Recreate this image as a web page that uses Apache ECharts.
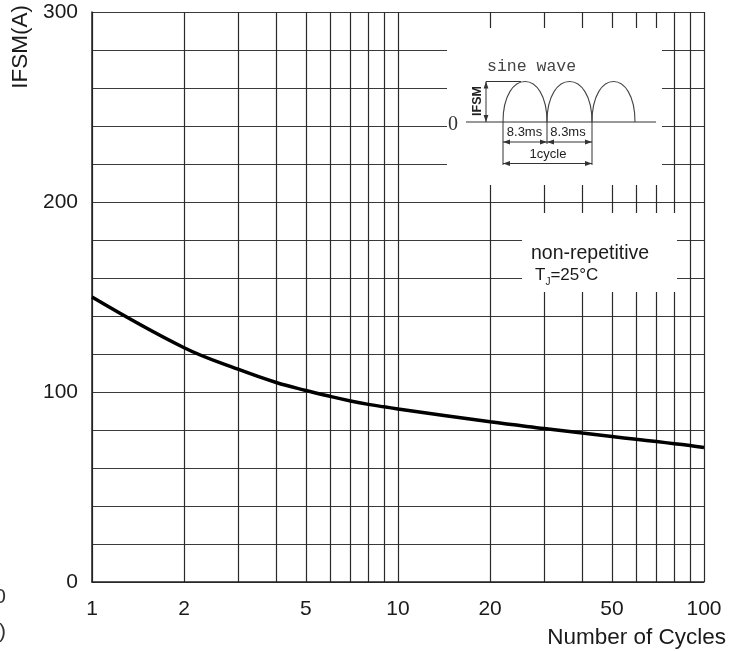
<!DOCTYPE html>
<html><head><meta charset="utf-8">
<script src="https://cdn.jsdelivr.net/npm/echarts@6/dist/echarts.min.js"></script>
<style>html,body{margin:0;padding:0;background:#fff}#c{width:749px;height:651px}</style>
</head><body><div id="c"></div>
<script>
// ---- data (IFSM in A versus number of cycles, log axis 1..100) ----
const cycles = [1, 2, 3, 4, 5, 6, 7, 8, 9, 10, 20, 30, 40, 50, 60, 70, 80, 90, 100];
const ifsm   = [150, 123.3, 112, 105, 100.8, 97.7, 95.3, 93.5, 92.2, 91.1, 84.3, 80.8, 78.4, 76.6, 75.1, 73.9, 72.8, 71.8, 70.8];
const xGridTicks  = [1, 2, 3, 4, 5, 6, 7, 8, 9, 10, 20, 30, 40, 50, 60, 70, 80, 90, 100];
const xLabelTicks = [1, 2, 5, 10, 20, 50, 100];
const yLabelTicks = [0, 100, 200, 300];

const SANS = 'Liberation Sans, Arial, sans-serif';
const INK = '#333';

function arrow(x, y, dir) {
  const L = 7, W = 2.4;
  let pts;
  if (dir === 'l') pts = [[x, y], [x + L, y - W], [x + L, y + W]];
  if (dir === 'r') pts = [[x, y], [x - L, y - W], [x - L, y + W]];
  if (dir === 'u') pts = [[x, y], [x - W, y + L], [x + W, y + L]];
  if (dir === 'd') pts = [[x, y], [x - W, y - L], [x + W, y - L]];
  return { type: 'polygon', z: 12, shape: { points: pts }, style: { fill: INK } };
}
function seg(x1, y1, x2, y2, w) {
  return { type: 'line', z: 12, shape: { x1, y1, x2, y2 }, style: { stroke: INK, lineWidth: w || 1 } };
}
function hump(x0, x1, base, h) {
  const c = base - h * 4 / 3;
  return { type: 'bezierCurve', z: 12,
    shape: { x1: x0, y1: base, x2: x1, y2: base, cpx1: x0, cpy1: c, cpx2: x1, cpy2: c },
    style: { stroke: '#444', lineWidth: 1.1, fill: null } };
}
function txt(x, y, text, extra) {
  return { type: 'text', z: 13, x, y,
    style: Object.assign({ text, fill: '#222', font: '13px ' + SANS, align: 'center', verticalAlign: 'middle' }, extra || {}) };
}

const base = 122, peak = 40.5;
const graphics = [
  // white panels over the grid
  { type: 'rect', z: 10, shape: { x: 447, y: 28, width: 215, height: 157 }, style: { fill: '#fff' } },
  { type: 'rect', z: 10, shape: { x: 522, y: 213, width: 155, height: 79 }, style: { fill: '#fff' } },
  // sine wave inset
  txt(487, 67, 'sine wave', { font: '16.5px Liberation Mono, monospace', align: 'left', fill: '#444' }),
  txt(453, 125, '0', { font: '20px Liberation Serif, serif', fill: '#333' }),
  seg(466, base, 656, base),
  hump(503, 547, base, peak), hump(547, 592, base, peak), hump(592, 635, base, peak),
  seg(486, base - peak, 521, base - peak),
  seg(486, base - peak, 486, base),
  arrow(486, base - peak, 'u'), arrow(486, base, 'd'),
  { type: 'text', z: 13, x: 478, y: 101, rotation: Math.PI / 2,
    style: { text: 'IFSM', fill: '#222', font: 'bold 12.5px ' + SANS, align: 'center', verticalAlign: 'middle' } },
  seg(503, base, 503, 165), seg(547, base, 547, 144), seg(592, base, 592, 165),
  seg(503, 142, 592, 142),
  arrow(503, 142, 'l'), arrow(547, 142, 'r'), arrow(547, 142, 'l'), arrow(592, 142, 'r'),
  txt(524.5, 132, '8.3ms'), txt(568, 132, '8.3ms'),
  seg(503, 163.5, 592, 163.5),
  arrow(503, 163.5, 'l'), arrow(592, 163.5, 'r'),
  txt(548, 154, '1cycle'),
  // condition note
  txt(531, 254, 'non-repetitive', { font: '19.5px ' + SANS, align: 'left', fill: '#1a1a1a' }),
  { type: 'text', z: 13, x: 535, y: 277,
    style: { text: '{a|T}{b|J}{a|=25°C}', align: 'left', verticalAlign: 'middle',
      rich: { a: { fontSize: 17, fontFamily: SANS, fill: '#1a1a1a', verticalAlign: 'bottom', padding: [0, 0, 3, 0] },
              b: { fontSize: 10, fontFamily: SANS, fill: '#1a1a1a', verticalAlign: 'bottom' } } } },
  // cut-off text at the left edge of the picture
  txt(6, 597, '0', { font: '21px ' + SANS, align: 'right', fill: '#333' }),
  txt(6, 632, ')', { font: '21px ' + SANS, align: 'right', fill: '#333' })
];

const chart = echarts.init(document.getElementById('c'), null, { renderer: 'canvas' });
chart.setOption({
  animation: false,
  backgroundColor: '#fff',
  grid: { left: 92, top: 12, right: 45, bottom: 69 },
  xAxis: {
    type: 'log', logBase: 10, min: 1, max: 100,
    name: 'Number of Cycles', nameLocation: 'end', nameGap: 22, nameMoveOverlap: false,
    nameTextStyle: { fontFamily: SANS, fontSize: 22.5, color: '#1a1a1a', align: 'right', verticalAlign: 'top', padding: [44, 0, 0, 0] },
    axisLine: { show: true, onZero: false, lineStyle: { color: '#222', width: 1.5 } },
    axisTick: { show: false, customValues: xGridTicks },
    axisLabel: { customValues: xLabelTicks, margin: 17, fontFamily: SANS, fontSize: 21, color: '#1a1a1a' },
    splitLine: { show: true, lineStyle: { color: '#2a2a2a', width: 1.2 } }
  },
  yAxis: {
    type: 'value', min: 0, max: 300, interval: 20,
    name: 'IFSM(A)', nameLocation: 'end', nameGap: 7, nameRotate: 90, nameMoveOverlap: false,
    nameTextStyle: { fontFamily: SANS, fontSize: 22.5, color: '#1a1a1a', align: 'right', verticalAlign: 'bottom', padding: [0, 0, 60, 0] },
    axisLine: { show: true, lineStyle: { color: '#222', width: 1.5 } },
    axisTick: { show: false },
    axisLabel: { customValues: yLabelTicks, margin: 14, fontFamily: SANS, fontSize: 21, color: '#1a1a1a' },
    splitLine: { show: true, lineStyle: { color: '#3a3a3a', width: 1.2 } }
  },
  series: [{
    type: 'line', data: cycles.map((c, i) => [c, ifsm[i]]),
    showSymbol: false, smooth: 0.4, z: 5,
    lineStyle: { color: '#000', width: 3.5 }
  }],
  graphic: { elements: graphics }
});
</script></body></html>
